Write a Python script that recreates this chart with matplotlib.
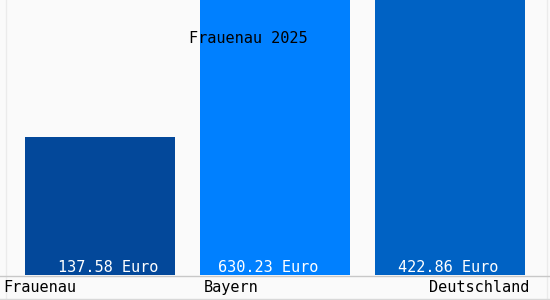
import matplotlib.pyplot as plt
from matplotlib.lines import Line2D

# data
regions = ["Frauenau", "Bayern", "Deutschland"]
values = [137.58, 630.23, 422.86]
labels = ["137.58 Euro", "630.23 Euro", "422.86 Euro"]
colors = ["#03489A", "#0080FF", "#0062C4"]
title = "Frauenau 2025"

W, H = 550, 300
fig = plt.figure(figsize=(W / 100, H / 100), dpi=100, facecolor="#FAFAFA")

# plot area: full width, baseline 25 px above the bottom
ax = fig.add_axes([0, 25 / H, 1, 1 - 25 / H])
ax.set_facecolor("#FAFAFA")
x = range(len(regions))
ax.bar(x, values, width=150 / 175, color=colors)
ax.set_xlim(-100 / 175, 450 / 175)
ax.set_ylim(0, 275)
ax.axis("off")

font = dict(family="DejaVu Sans Mono", fontsize=11)

# value labels sit a little off-centre in the original
shift = [8 / 175, -7 / 175, -2 / 175]
for i, lab in enumerate(labels):
    ax.text(i + shift[i], 3, lab, ha="center", va="baseline", color="white", **font)

fig.text(248 / W, 1 - 43 / H, title, ha="center", va="baseline", color="black", **font)

# category labels below the baseline
fig.text(3 / W, 1 - 292 / H, regions[0], ha="left", va="baseline", **font)
fig.text(204 / W, 1 - 292 / H, regions[1], ha="left", va="baseline", **font)
fig.text(529 / W, 1 - 292 / H, regions[2], ha="right", va="baseline", **font)

# baseline and faint frame
fig.add_artist(Line2D([0, 1], [1 - 275.5 / H] * 2, color="#C8C8C8", lw=1))
fig.add_artist(Line2D([0, 1], [1 - 298.5 / H] * 2, color="#D8D8D8", lw=1))
fig.add_artist(Line2D([5.5 / W] * 2, [0, 1], color="#EBEBEB", lw=1, zorder=0))
fig.add_artist(Line2D([546.5 / W] * 2, [0, 1], color="#EBEBEB", lw=1, zorder=0))

fig.savefig("out.png", dpi=100, facecolor=fig.get_facecolor())
